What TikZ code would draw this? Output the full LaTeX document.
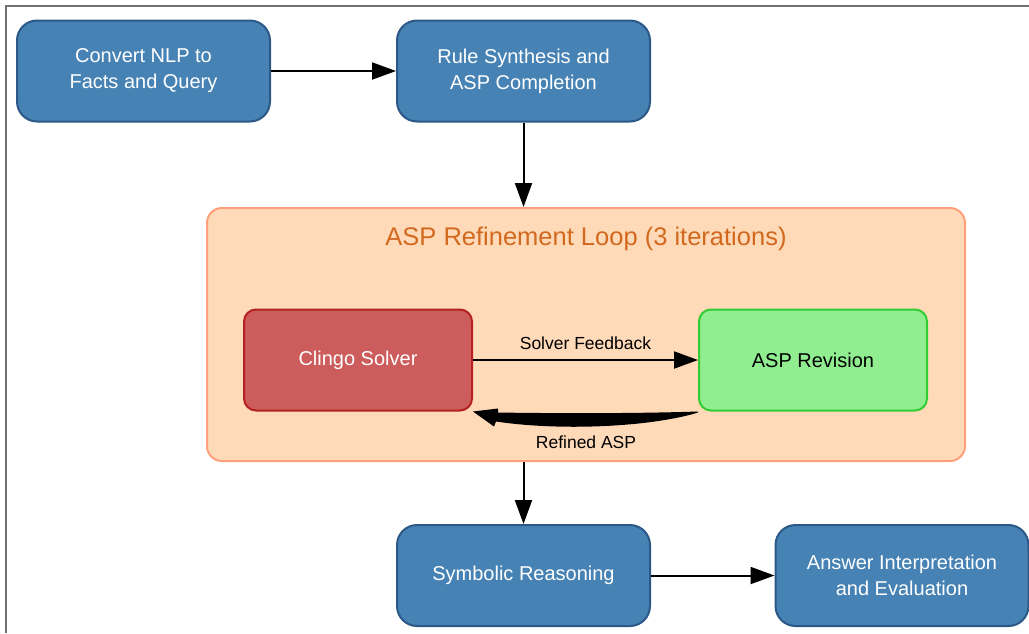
\documentclass[tikz,border=0pt]{standalone}
\usepackage{fontspec}
\setmainfont{Liberation Sans}
\usetikzlibrary{arrows.meta,calc}
\definecolor{boxblue}{HTML}{4682B4}
\definecolor{boxedge}{HTML}{2B5886}
\definecolor{clfill}{HTML}{FFDAB9}
\definecolor{cledge}{HTML}{FFA07A}
\definecolor{cltext}{HTML}{D2691E}
\definecolor{redfill}{HTML}{CD5C5C}
\definecolor{rededge}{HTML}{B22222}
\definecolor{grfill}{HTML}{90EE90}
\definecolor{gredge}{HTML}{32CD32}
\definecolor{framegray}{HTML}{707070}
\tikzset{
  stepbox/.style={draw=boxedge, fill=boxblue, line width=2pt, rounded corners=20pt,
    minimum width=253pt, minimum height=101pt, align=center, text=white,
    font=\fontsize{20}{26}\selectfont, inner sep=0pt},
  innerbox/.style={line width=2pt, rounded corners=12pt,
    minimum width=228pt, minimum height=101pt, align=center,
    font=\fontsize{20}{26}\selectfont, inner sep=0pt},
  conn/.style={line width=2pt, -{Triangle[length=24pt,width=17pt]}},
  elabel/.style={font=\fontsize{17.5}{20}\selectfont, text=black},
}
\begin{document}
\begin{tikzpicture}[x=1pt,y=-1pt]
\useasboundingbox (0,0) rectangle (1029,633);
\draw[framegray, line width=1.5pt] (6,633) -- (6,6) -- (1029,6);

\node[stepbox] (n1) at (143.5,71) {Convert NLP to\\Facts and Query};
\node[stepbox] (n2) at (523.5,71) {Rule Synthesis and\\ASP Completion};

\node[draw=cledge, fill=clfill, line width=2pt, rounded corners=15pt,
      minimum width=758pt, minimum height=253pt, inner sep=0pt] (loop) at (586,334.5) {};
\node[text=cltext, font=\fontsize{25.5}{28}\selectfont] (title) at (586,239) {ASP Refinement Loop (3 iterations)};

\node[innerbox, draw=rededge, fill=redfill, text=white] (cs) at (358,360) {Clingo Solver};
\node[innerbox, draw=gredge, fill=grfill, text=black] (rev) at (813,360) {ASP Revision};

\node[stepbox] (sym) at (523.5,575.5) {Symbolic Reasoning};
\node[stepbox] (ans) at (902,575.5) {Answer Interpretation\\and Evaluation};

\draw[conn] (n1.east) -- (n2.west);
\draw[conn] (n2.south) -- (n2.south |- loop.north);
\draw[conn] (cs.east) -- node[elabel, above=6pt] (lab1) {Solver Feedback} (rev.west);
\draw[conn] (loop.south -| sym.north) -- (sym.north);
\draw[conn] (sym.east) -- (ans.west);

% thick curved feedback arrow
\coordinate (R) at (rev.south west);
\coordinate (C) at (cs.south east);
\fill[black] (R) .. controls ($(R)+(-60,2)$) and ($(C)+(88,2)$) .. ($(C)+(25,1)$)
  -- ($(C)+(25,-3)$) -- (C) -- ($(C)+(21,15)$) -- ($(C)+(23,10)$)
  .. controls ($(C)+(90,20)$) and ($(R)+(-45,15)$) .. ($(R)+(0,1)$) -- cycle;
\node[elabel] (lab2) at (586,442) {Refined ASP};
\end{tikzpicture}
\end{document}
